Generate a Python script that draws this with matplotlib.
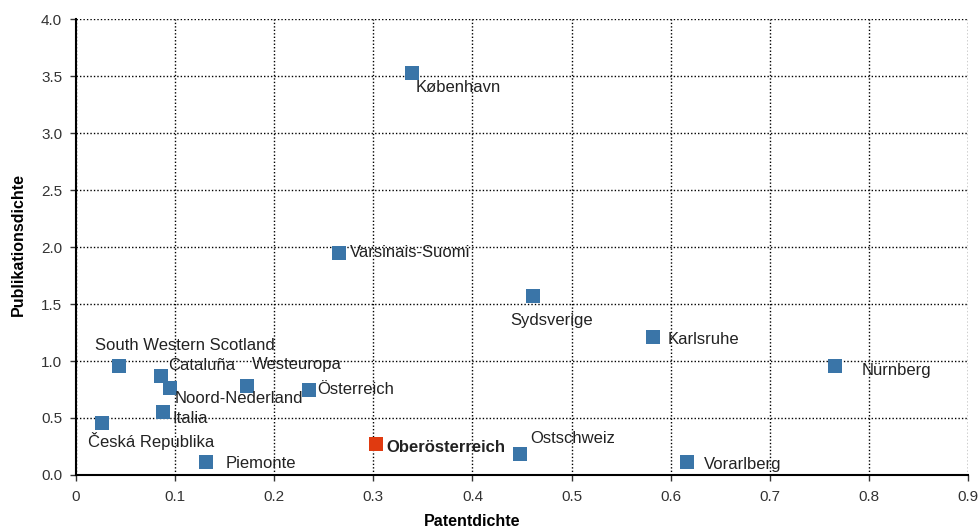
import matplotlib
matplotlib.use("Agg")
import matplotlib.pyplot as plt

names = ["København", "Varsinais-Suomi", "Sydsverige", "Karlsruhe", "Nürnberg",
         "South Western Scotland", "Cataluña", "Noord-Nederland", "Westeuropa",
         "Österreich", "Italia", "Česká Republika", "Piemonte", "Oberösterreich",
         "Ostschweiz", "Vorarlberg"]
patentdichte = [0.339, 0.265, 0.461, 0.582, 0.766, 0.043, 0.086, 0.095, 0.173,
                0.235, 0.088, 0.026, 0.131, 0.303, 0.448, 0.616]
publikationsdichte = [3.53, 1.95, 1.57, 1.21, 0.96, 0.96, 0.87, 0.76, 0.78,
                      0.75, 0.55, 0.46, 0.11, 0.27, 0.18, 0.11]
highlight = "Oberösterreich"

# label offsets in pixels (layout only)
offsets = {"København": (4, -15), "Varsinais-Suomi": (11, 0), "Sydsverige": (-23, -24),
           "Karlsruhe": (15, -2), "Nürnberg": (26, -5), "South Western Scotland": (-24, 20),
           "Cataluña": (7, 10), "Noord-Nederland": (4, -10), "Westeuropa": (4, 22),
           "Österreich": (8, 0), "Italia": (9, -6), "Česká Republika": (-14, -18),
           "Piemonte": (20, -1), "Oberösterreich": (10, -3), "Ostschweiz": (10, 16),
           "Vorarlberg": (17, -2)}

plt.rcParams['font.family'] = ["Liberation Sans", "DejaVu Sans"]

fig = plt.figure(figsize=(9.79, 5.31), dpi=100)
ax = fig.add_axes([0.0776, 0.1055, 0.9112, 0.8585])

blue = "#3a75a8"
red = "#e03a10"
for n, x, y in zip(names, patentdichte, publikationsdichte):
    c = red if n == highlight else blue
    ax.scatter([x], [y], marker="s", s=110, color=c, zorder=3, linewidths=0)
    dx, dy = offsets[n]
    ax.annotate(n, (x, y), xytext=(dx, dy), textcoords="offset pixels",
                ha="left", va="center", fontsize=12, color="#222222",
                fontweight="bold" if n == highlight else "normal", zorder=4)

ax.set_xlim(0, 0.9)
ax.set_ylim(0, 4.0)
ax.set_xticks([0, 0.1, 0.2, 0.3, 0.4, 0.5, 0.6, 0.7, 0.8, 0.9])
ax.set_xticklabels(["0", "0.1", "0.2", "0.3", "0.4", "0.5", "0.6", "0.7", "0.8", "0.9"])
ax.set_yticks([0, 0.5, 1.0, 1.5, 2.0, 2.5, 3.0, 3.5, 4.0])
ax.set_yticklabels(["0.0", "0.5", "1.0", "1.5", "2.0", "2.5", "3.0", "3.5", "4.0"])
ax.tick_params(labelsize=11, colors="#333333", length=4, width=1, pad=6)
ax.tick_params(axis="x", pad=7)
ax.grid(True, linestyle=(0, (1, 1.5)), color="black", linewidth=1)
ax.set_axisbelow(True)
for s in ["top", "right"]:
    ax.spines[s].set_visible(False)
for s in ["left", "bottom"]:
    ax.spines[s].set_linewidth(1.5)
    ax.spines[s].set_color("black")

fig.text(472 / 979, 1 - 522 / 531, "Patentdichte", ha="center", va="center",
         fontsize=11.5, fontweight="bold")
fig.text(18 / 979, 1 - 245 / 531, "Publikationsdichte", ha="center", va="center",
         rotation=90, fontsize=11.5, fontweight="bold")

fig.savefig("out.png", dpi=100)
